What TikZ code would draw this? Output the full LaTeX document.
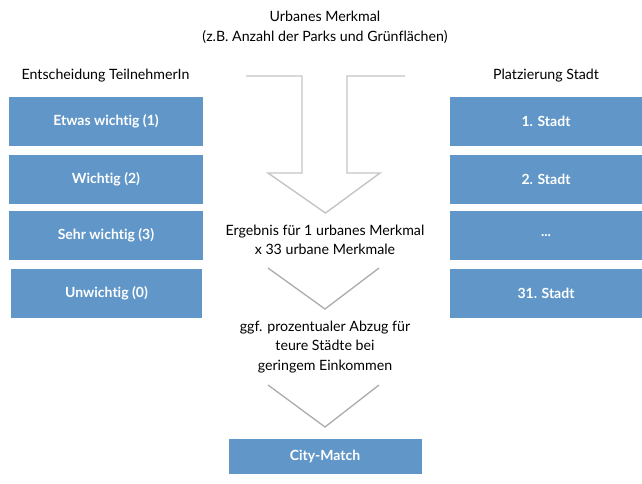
\documentclass[tikz,border=0pt]{standalone}
\usepackage{fontspec}
\setmainfont{Lato}[Ligatures=NoCommon]
\definecolor{boxblue}{HTML}{6197C8}
\definecolor{arrowgray}{HTML}{C4C4C4}
\definecolor{chevgray}{HTML}{ABABAB}
\begin{document}
\begin{tikzpicture}[x=1pt,y=-1pt,
  bluebox/.style={fill=boxblue, text=white, font=\bfseries\fontsize{14}{17}\selectfont, inner sep=0pt, minimum width=194pt, minimum height=49pt},
  plain/.style={text=black, font=\fontsize{14.2}{19.5}\selectfont, align=center, inner sep=0pt},
  arrowline/.style={draw=arrowgray, line width=1.4pt},
  chevline/.style={draw=chevgray, line width=1.3pt}]
\useasboundingbox (0,0) rectangle (642,483);
% titles
\node[plain] (top) at (325,27.5) {Urbanes Merkmal\\(z.B. Anzahl der Parks und Grünflächen)};
\node[plain] (lefttitle) at (105.5,75.5) {Entscheidung TeilnehmerIn};
\node[plain] (righttitle) at (546,75.5) {Platzierung Stadt};
% left boxes
\node[bluebox] (l1) at (106,121.5) {Etwas wichtig (1)};
\node[bluebox] (l2) at (106,179.5) {Wichtig (2)};
\node[bluebox] (l3) at (106,235.5) {Sehr wichtig (3)};
\node[bluebox, minimum width=191pt] (l4) at (106.5,293.5) {Unwichtig (0)};
% right boxes
\node[bluebox, minimum width=192pt] (r1) at (546,121.5) {1. Stadt};
\node[bluebox, minimum width=192pt] (r2) at (546,179.5) {2. Stadt};
\node[bluebox, minimum width=192pt] (r3) at (546,235.5) {...};
\node[bluebox, minimum width=192pt] (r4) at (546,293.5) {31. Stadt};
% big arrow
\draw[arrowline, line join=miter] (246,76) -- (302,76) -- (302,173) -- (268,173) -- (325.5,213) -- (380,173) -- (347,173) -- (347,76) -- (405,76);
% texts in middle
\node[plain] (res) at (325,240) {Ergebnis für 1 urbanes Merkmal\\x 33 urbane Merkmale};
\draw[chevline] (268,268) -- (325,309) -- (379,268);
\node[plain] (abzug) at (325,347) {ggf. prozentualer Abzug für\\teure Städte bei\\geringem Einkommen};
\draw[chevline] (268,385) -- (325,427) -- (379,385);
\node[bluebox, minimum width=193pt, minimum height=35pt] (cm) at (325,456.5) {City-Match};
\end{tikzpicture}
\end{document}
